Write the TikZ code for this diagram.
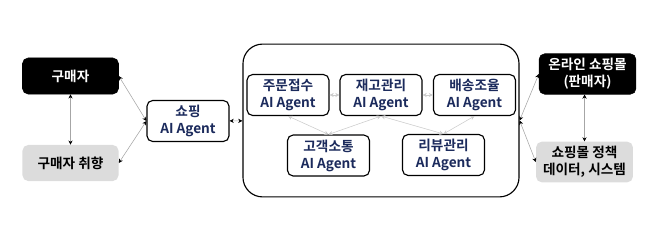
\documentclass[tikz,border=0pt]{standalone}
\usepackage{fontspec}
\setmainfont{Noto Sans CJK KR}[BoldFont={* Bold}]
\usepackage{tikz}
\usetikzlibrary{arrows.meta}

\definecolor{navy}{HTML}{1B2A5C}
\definecolor{paleg}{HTML}{DCDCDC}

\begin{document}
\begin{tikzpicture}[
    x=0.025cm, y=-0.025cm,
    txt/.style={font=\fontsize{9.7}{12}\selectfont\bfseries, align=center},
    darkbox/.style={txt, draw=black, fill=black, text=white, rounded corners=4pt, minimum width=2.4cm, minimum height=0.9cm},
    greybox/.style={txt, fill=paleg, text=black, rounded corners=4pt, minimum width=2.4cm, minimum height=0.9cm},
    agentbox/.style={txt, draw=black, thick, fill=white, text=navy, rounded corners=4pt, minimum width=2.05cm, minimum height=0.9cm},
    hubbox/.style={draw=black, thick, rounded corners=14pt, minimum width=6.9cm, minimum height=3.82cm},
    biarr/.style={{Stealth[length=3pt,width=3pt,black]}-{Stealth[length=3pt,width=3pt,black]}, gray!70, thin},
    innarr/.style={{Stealth[length=3pt,width=3pt]}-{Stealth[length=3pt,width=3pt]}, gray!40, thin}
]
\useasboundingbox (0,0) rectangle (658,238);

% ---- Buyer side (left) ----
\node[darkbox] (buyer) at (70.5, 76) {구매자};
\node[greybox] (pref)  at (70.5, 163) {구매자 취향};
\node[agentbox] (shop) at (188, 121) {쇼핑\\AI Agent};

% ---- Agent group (centre) ----
\node[hubbox] (hub) at (381, 120.5) {};
\node[agentbox] (order)  at (288, 95)    {주문접수\\AI Agent};
\node[agentbox] (stock)  at (381, 95)    {재고관리\\AI Agent};
\node[agentbox] (ship)   at (474.5, 95)  {배송조율\\AI Agent};
\node[agentbox] (cs)     at (328.5, 155.5) {고객소통\\AI Agent};
\node[agentbox] (review) at (443.5, 155) {리뷰관리\\AI Agent};

% ---- Seller side (right) ----
\node[darkbox, minimum width=2.42cm] (mall)   at (587.5, 74) {온라인 쇼핑몰\\(판매자)};
\node[greybox, minimum width=2.42cm] (policy) at (584.5, 162) {쇼핑몰 정책\\데이터, 시스템};

% ---- Outer arrows ----
\draw[biarr] (buyer) -- (pref);
\draw[biarr] (buyer.east) -- (shop.west);
\draw[biarr] (pref.east) -- (shop.west);
\draw[biarr] (shop) -- (hub);
\draw[biarr] (hub.east) -- (mall.west);
\draw[biarr] (hub.east) -- (policy.west);
\draw[biarr] (policy.north |- mall.south) -- (policy.north);

% ---- Inner arrows ----
\draw[innarr] (order) -- (stock);
\draw[innarr] (stock) -- (ship);
\draw[innarr] (order.south) -- (cs.north);
\draw[innarr] (stock.south) -- (cs.north);
\draw[innarr] (stock.south) -- (review.north);
\draw[innarr] (ship.south) -- (review.north);

\end{tikzpicture}
\end{document}
